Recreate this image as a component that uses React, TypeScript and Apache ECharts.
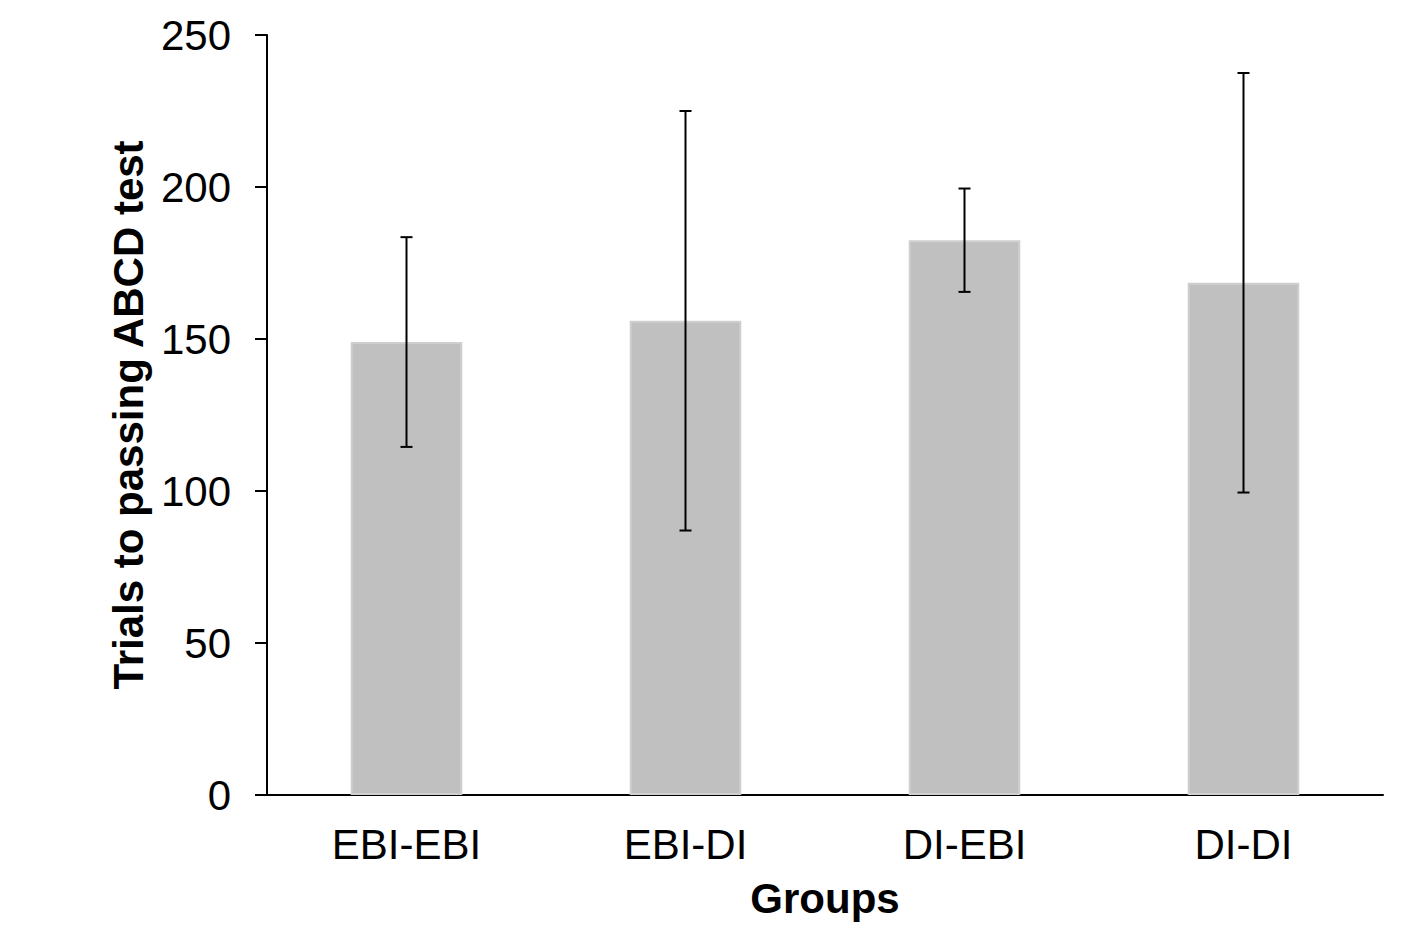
import React, { useEffect, useRef } from "react";
import * as echarts from "echarts";

const categories = ["EBI-EBI", "EBI-DI", "DI-EBI", "DI-DI"];
const means = [149, 156, 182.5, 168.5];
const errors = [34.5, 69, 17, 69];
const yTicks = [0, 50, 100, 150, 200, 250];

export default function App() {
  const ref = useRef<HTMLDivElement>(null);
  useEffect(() => {
    const chart = echarts.init(ref.current!, undefined, { renderer: "svg" });
    const font = "Liberation Sans, Arial, sans-serif";
    chart.setOption({
      animation: false,
      grid: { left: 259, right: 30, top: 27, bottom: 145 },
      xAxis: {
        type: "category",
        data: categories,
        name: "Groups",
        nameLocation: "middle",
        nameGap: 82,
        nameTextStyle: { fontFamily: font, fontSize: 42, fontWeight: "bold", color: "#000" },
        axisLine: { lineStyle: { color: "#000", width: 2 } },
        axisTick: { inside: true, length: 12, lineStyle: { color: "#000", width: 2 } },
        axisLabel: { fontFamily: font, fontSize: 42, color: "#000", margin: 28 },
      },
      yAxis: {
        type: "value",
        min: yTicks[0],
        max: yTicks[yTicks.length - 1],
        interval: 50,
        name: "Trials to passing ABCD test",
        nameLocation: "middle",
        nameGap: 118,
        nameTextStyle: { fontFamily: font, fontSize: 42, fontWeight: "bold", color: "#000" },
        axisLine: { show: true, lineStyle: { color: "#000", width: 2 } },
        axisTick: { show: true, length: 12, lineStyle: { color: "#000", width: 2 } },
        axisLabel: { fontFamily: font, fontSize: 42, color: "#000", margin: 36 },
        splitLine: { show: false },
      },
      series: [
        {
          type: "bar",
          data: means,
          barWidth: "40%",
          itemStyle: { color: "#c0c0c0", borderColor: "#cfcfcf", borderWidth: 2 },
        },
        {
          type: "custom",
          data: means.map((m, i) => [i, m - errors[i], m + errors[i]]),
          renderItem: (params: any, api: any) => {
            const x = api.value(0);
            const lo = api.coord([x, api.value(1)]);
            const hi = api.coord([x, api.value(2)]);
            const cap = 6;
            const style = { stroke: "#000", lineWidth: 2 };
            return {
              type: "group",
              children: [
                { type: "line", shape: { x1: lo[0], y1: lo[1], x2: hi[0], y2: hi[1] }, style },
                { type: "line", shape: { x1: hi[0] - cap, y1: hi[1], x2: hi[0] + cap, y2: hi[1] }, style },
                { type: "line", shape: { x1: lo[0] - cap, y1: lo[1], x2: lo[0] + cap, y2: lo[1] }, style },
              ],
            };
          },
          z: 10,
        },
      ],
    });
    return () => chart.dispose();
  }, []);
  return <div ref={ref} style={{ width: 1405, height: 932 }} />;
}
